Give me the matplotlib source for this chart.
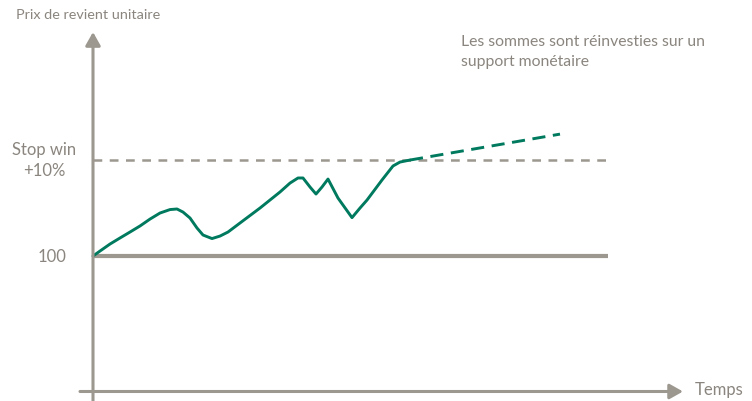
"""Prix de revient unitaire avec stop win"""
import matplotlib
matplotlib.use("Agg")
import matplotlib.pyplot as plt

plt.rcParams['font.family'] = ['Lato', 'DejaVu Sans']

GRIS = "#9c978f"
GRIS_TXT = "#8a857e"
VERT = "#007a5e"

# courbe (temps, prix)
temps = [0, 0.7, 1.7, 2.7, 3.7, 4.7, 5.7, 6.7, 7.7, 8.4, 9.0, 9.7, 10.4,
         11.0, 11.9, 12.7, 13.5, 14.7, 16.7, 18.7, 19.7, 20.5, 21.0, 21.7,
         22.3, 22.9, 23.5, 24.5, 25.9, 26.7, 27.4, 28.9, 30.0, 30.7, 31.7]
prix = [100, 100.52, 101.25, 101.88, 102.5, 103.13, 103.85, 104.48, 104.84,
        104.9, 104.58, 103.96, 102.92, 102.19, 101.82, 102.08, 102.5, 103.44,
        105.0, 106.67, 107.6, 108.13, 108.13, 107.19, 106.46, 107.19, 108.02,
        106.04, 104.0, 105.0, 105.83, 107.92, 109.38, 109.79, 110.0]

# prolongation sur support monetaire
temps_mon = [31.7, 46.7]
prix_mon = [110.0, 112.7]

base = 100
stop_win = 110
fin_niveaux = 51.5

fig = plt.figure(figsize=(7.52, 4.01), dpi=100)
ax = fig.add_axes([0, 0, 1, 1])
ax.set_xlim(-9.3, 65.9)
ax.set_ylim(84.9, 126.67)
ax.axis("off")

# axes avec fleches
fleche = dict(arrowstyle='-|>,head_length=0.8,head_width=0.45', lw=2.2,
              color=GRIS, shrinkA=0, shrinkB=0)
ax.annotate('', xy=(0, 123.33), xytext=(0, 84.9), arrowprops=fleche)
ax.annotate('', xy=(59.0, 85.89), xytext=(-1.3, 85.89), arrowprops=fleche)

# niveaux
ax.plot([0, fin_niveaux], [base, base], color=GRIS, lw=3, solid_capstyle='butt')
ax.plot([0, fin_niveaux], [stop_win, stop_win], color=GRIS, lw=1.8,
        dashes=(3.5, 3.0))

# courbe
ax.plot(temps, prix, color=VERT, lw=2.1, solid_joinstyle='round',
        solid_capstyle='round')
ax.plot(temps_mon, prix_mon, color=VERT, lw=2.1, dashes=(4.5, 2.6))

# textes
style = dict(color=GRIS_TXT, va='center')
ax.text(-7.7, 125.1, "Prix de revient unitaire", ha='left', fontsize=10.4,
        **style)
ax.text(-4.9, 111.04, "Stop win", ha='center', fontsize=12, **style)
ax.text(-4.9, 108.85, "+10%", ha='center', fontsize=12, **style)
ax.text(-2.7, 99.9, "100", ha='right', fontsize=12, **style)
ax.text(36.8, 122.3, "Les sommes sont réinvesties sur un", ha='left',
        fontsize=11.3, **style)
ax.text(36.8, 120.2, "support monétaire", ha='left', fontsize=11.3, **style)
ax.text(60.2, 86.04, "Temps", ha='left', fontsize=12, **style)

fig.savefig("out.png", dpi=100)
